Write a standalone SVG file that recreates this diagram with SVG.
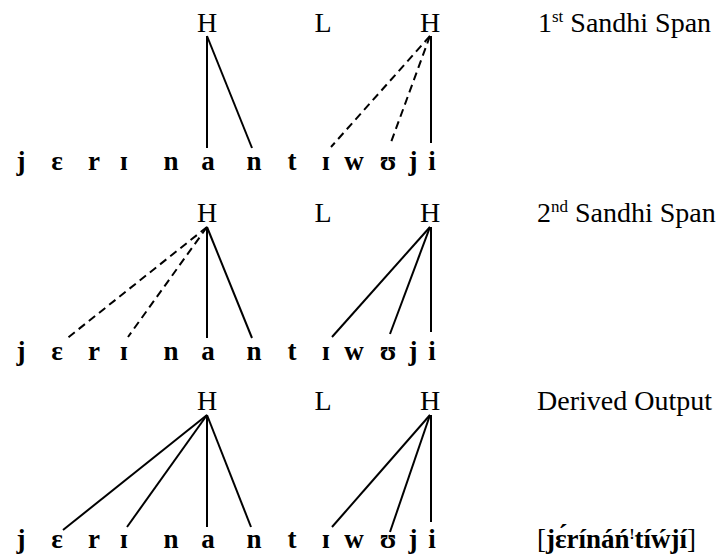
<svg xmlns="http://www.w3.org/2000/svg" width="720" height="558" viewBox="0 0 720 558">
<style>
text{font-family:"Liberation Serif","Times New Roman","DejaVu Serif",serif;fill:#000}
.t{font-size:28px;text-anchor:middle}
.lab{font-size:28px}
.seg{font-size:27px;font-weight:bold;text-anchor:middle}
.sup{font-size:17px}
line{stroke:#000;stroke-width:2;fill:none}
.d{stroke-dasharray:8 5}
</style>
<rect width="720" height="558" fill="#fff"/>
<!-- Row 1 -->
<g id="row1-tones">
<text class="t" x="207" y="32">H</text>
<text class="t" x="323" y="32">L</text>
<text class="t" x="430" y="32">H</text>
</g>
<g id="row1-label"><text class="lab" x="538" y="32">1<tspan class="sup" dy="-10">st</tspan><tspan dy="10"> Sandhi Span</tspan></text></g>
<g id="row1-segments">
<text class="seg" x="21" y="170">j</text><text class="seg" x="57" y="170">ɛ</text><text class="seg" x="94" y="170">r</text><text class="seg" x="124" y="170">ɪ</text><text class="seg" x="171" y="170">n</text><text class="seg" x="208" y="170">a</text><text class="seg" x="254" y="170">n</text><text class="seg" x="292" y="170">t</text><text class="seg" x="326" y="170">ɪ</text><text class="seg" x="354" y="170">w</text><text class="seg" x="388" y="170">ʊ</text><text class="seg" x="413" y="170">j</text><text class="seg" x="432" y="170">i</text>
</g>
<g id="row1-connectors">
<line x1="207" y1="36" x2="207" y2="148"/>
<line x1="207" y1="36" x2="252" y2="148"/>
<line class="d" x1="430" y1="36" x2="331" y2="147"/>
<line class="d" x1="430" y1="36" x2="390" y2="145"/>
<line x1="431" y1="36" x2="431" y2="143"/>
</g>
<!-- Row 2 -->
<g id="row2-tones">
<text class="t" x="207" y="222">H</text>
<text class="t" x="323" y="222">L</text>
<text class="t" x="430" y="222">H</text>
</g>
<g id="row2-label"><text class="lab" x="537" y="222">2<tspan class="sup" dy="-10">nd</tspan><tspan dy="10"> Sandhi Span</tspan></text></g>
<g id="row2-segments">
<text class="seg" x="21" y="360">j</text><text class="seg" x="57" y="360">ɛ</text><text class="seg" x="94" y="360">r</text><text class="seg" x="124" y="360">ɪ</text><text class="seg" x="171" y="360">n</text><text class="seg" x="208" y="360">a</text><text class="seg" x="254" y="360">n</text><text class="seg" x="292" y="360">t</text><text class="seg" x="326" y="360">ɪ</text><text class="seg" x="354" y="360">w</text><text class="seg" x="388" y="360">ʊ</text><text class="seg" x="413" y="360">j</text><text class="seg" x="432" y="360">i</text>
</g>
<g id="row2-connectors">
<line class="d" x1="207" y1="227" x2="65" y2="340"/>
<line class="d" x1="207" y1="227" x2="128" y2="337"/>
<line x1="207" y1="227" x2="207" y2="338"/>
<line x1="207" y1="227" x2="252" y2="338"/>
<line x1="430" y1="227" x2="332" y2="337"/>
<line x1="430" y1="227" x2="390" y2="334"/>
<line x1="431" y1="227" x2="431" y2="332"/>
</g>
<!-- Row 3 -->
<g id="row3-tones">
<text class="t" x="207" y="410">H</text>
<text class="t" x="323" y="410">L</text>
<text class="t" x="430" y="410">H</text>
</g>
<g id="row3-label"><text class="lab" x="537" y="410">Derived Output</text></g>
<g id="row3-segments">
<text class="seg" x="21" y="548">j</text><text class="seg" x="57" y="548">ɛ</text><text class="seg" x="94" y="548">r</text><text class="seg" x="124" y="548">ɪ</text><text class="seg" x="171" y="548">n</text><text class="seg" x="208" y="548">a</text><text class="seg" x="254" y="548">n</text><text class="seg" x="292" y="548">t</text><text class="seg" x="326" y="548">ɪ</text><text class="seg" x="354" y="548">w</text><text class="seg" x="388" y="548">ʊ</text><text class="seg" x="413" y="548">j</text><text class="seg" x="432" y="548">i</text>
</g>
<g id="row3-connectors">
<line x1="207" y1="415" x2="63" y2="530"/>
<line x1="207" y1="415" x2="127" y2="527"/>
<line x1="207" y1="415" x2="207" y2="527"/>
<line x1="207" y1="415" x2="251" y2="527"/>
<line x1="430" y1="415" x2="332" y2="527"/>
<line x1="430" y1="415" x2="390" y2="532"/>
<line x1="431" y1="415" x2="431" y2="522"/>
</g>
<g id="output"><text x="537" y="548" style="font-size:27px">[<tspan font-weight="bold">jɛ́rínáń<tspan style="font-size:15px" dy="-9">!</tspan><tspan dy="9">tíẃjí</tspan></tspan>]</text></g>
</svg>
